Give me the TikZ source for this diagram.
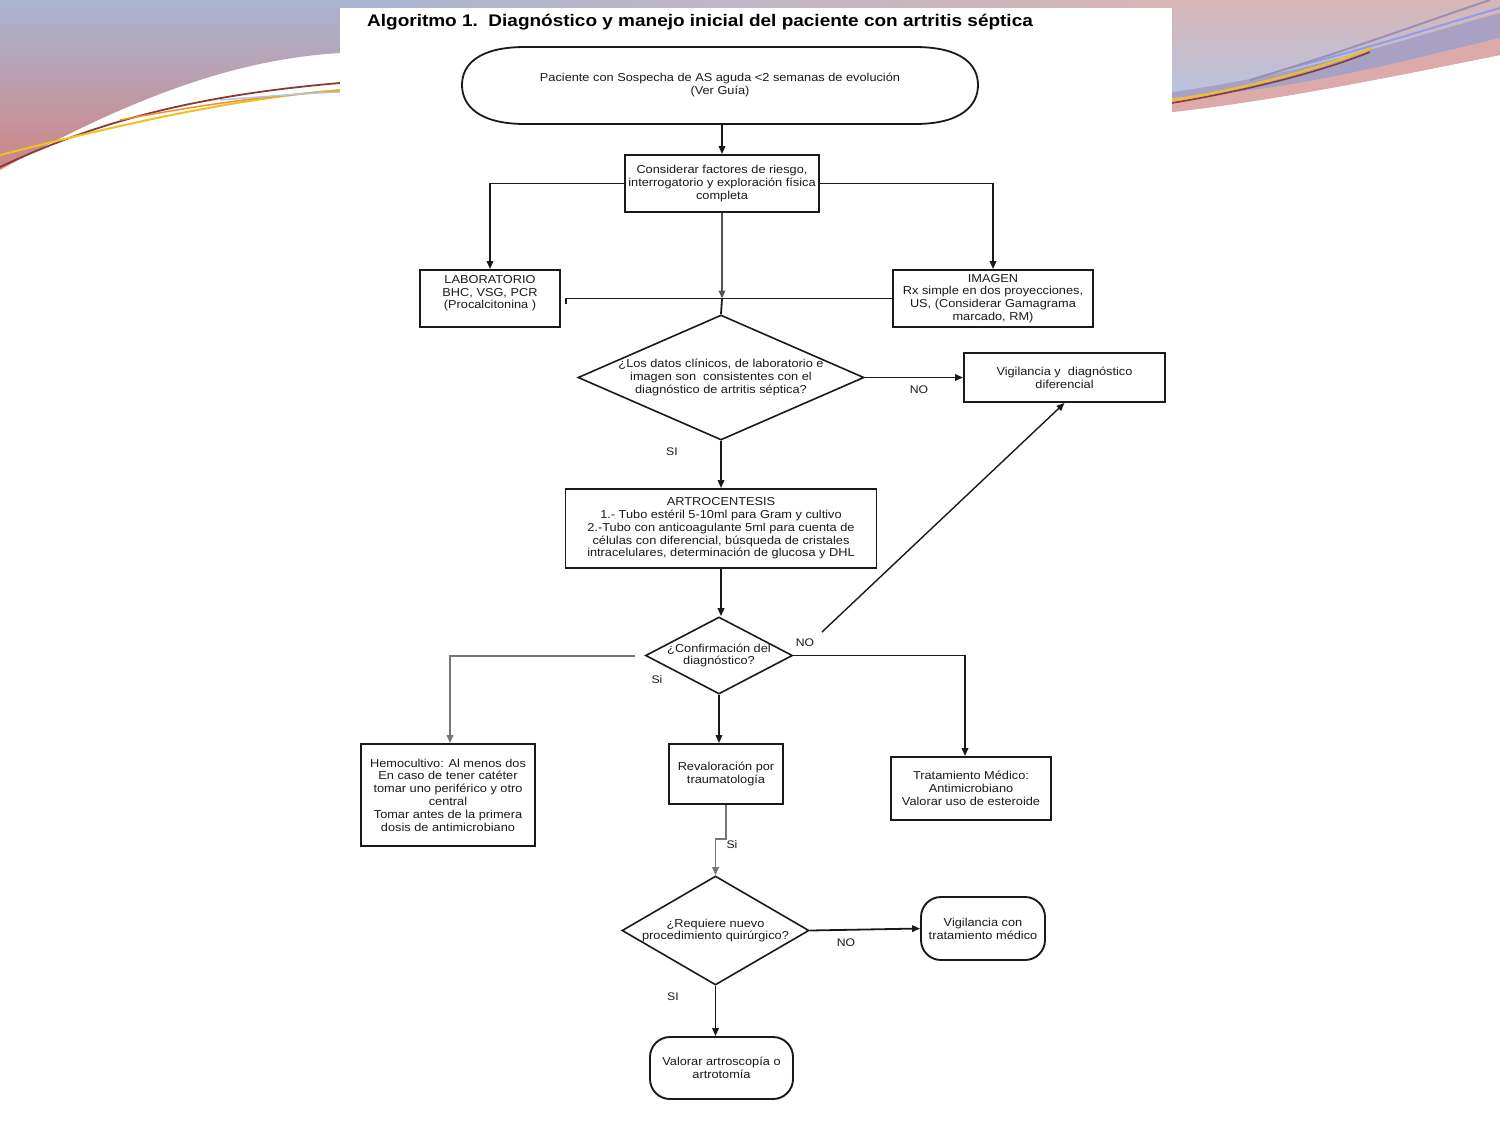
\documentclass[tikz,border=0pt]{standalone}
\usepackage{fontspec}
\setmainfont{Liberation Sans}[FakeStretch=1.11]
\newfontfamily\titlefont{Liberation Sans}[FakeStretch=1.13]
\usetikzlibrary{arrows.meta,shapes.geometric,calc}
\definecolor{bgblue}{HTML}{A9B5D2}
\definecolor{bgpink}{HTML}{CF8585}
\definecolor{bgrose}{HTML}{D8B6B6}
\definecolor{bglblue}{HTML}{B2C6E6}
\definecolor{bgpurple}{HTML}{9A90B8}
\definecolor{bgyellow}{HTML}{F2C022}
\definecolor{bgorange}{HTML}{F0902A}
\definecolor{bgbrown}{HTML}{8A3A34}
\definecolor{inkc}{HTML}{1A1A1A}
\begin{document}
\begin{tikzpicture}[x=1pt,y=-1pt,
  txt/.style={font=\fontsize{11.5}{12.8}\selectfont, align=center, text=inkc},
  box/.style={txt, draw=inkc, line width=1.9pt, rectangle, inner sep=0pt},
  dia/.style={draw=inkc, line width=1.6pt, diamond, inner sep=0pt},
  rbox/.style={box, rounded corners=20pt},
  conn/.style={draw=inkc, line width=1.8pt},
  arr/.style={conn, -{Triangle[length=8pt,width=6.5pt]}},
  lbl/.style={font=\fontsize{11}{12}\selectfont, text=inkc}]
\useasboundingbox (0,0) rectangle (1500,1125);
\fill[white] (0,0) rectangle (1500,1125);
% background swooshes
\shade[top color=bgblue, bottom color=bgpink] (0,0) -- (340,0) -- (340,53) .. controls (220,60) and (110,110) .. (0,170) -- cycle;
\shade[left color=bgblue, right color=bgrose] (340,0) rectangle (1172,8);
\shade[top color=bgrose, bottom color=bglblue] (1172,0) -- (1500,0) -- (1500,55) .. controls (1400,75) and (1280,100) .. (1172,112) -- cycle;
\fill[bgpurple!85] (1172,92) .. controls (1300,75) and (1400,40) .. (1500,13) -- (1500,38) .. controls (1400,62) and (1300,90) .. (1172,98) -- cycle;
\fill[bgpink!70] (1172,98) .. controls (1300,90) and (1400,62) .. (1500,38) -- (1500,55) .. controls (1400,75) and (1280,100) .. (1172,112) -- cycle;
\draw[bglblue!80!blue, line width=2pt] (1290,68) .. controls (1380,45) and (1440,25) .. (1500,8);
\draw[bgpurple, line width=2pt] (1250,80) .. controls (1350,50) and (1430,20) .. (1490,0);
\draw[bgbrown, line width=1.6pt] (1172,103) .. controls (1250,90) and (1320,72) .. (1370,52);
\draw[bgyellow, line width=2pt] (1172,100) .. controls (1250,88) and (1320,68) .. (1372,48);
\draw[bgbrown, line width=1.8pt] (0,167) .. controls (100,120) and (200,95) .. (340,83);
\draw[bgyellow, line width=2pt] (0,155) .. controls (100,130) and (220,100) .. (340,90);
\draw[bgorange, line width=1.5pt] (120,120) .. controls (200,105) and (270,95) .. (340,91);
\draw[bglblue, line width=1.5pt] (220,100) .. controls (270,96) and (310,93) .. (340,92);
% page
\fill[white] (340,8) rectangle (1172,1125);
% title
\node[font=\titlefont\bfseries\fontsize{16.8}{18}\selectfont, anchor=west, text=black, inner sep=0pt] (title) at (367,22) {Algoritmo 1.\ \ Diagn\'ostico y manejo inicial del paciente con artritis s\'eptica};
% start terminal
\node[txt, minimum width=516pt, minimum height=77pt, inner sep=0pt] (start) at (720,85) {Paciente con Sospecha de AS aguda <2 semanas de evoluci\'on\\(Ver Gu\'ia)};
\draw[inkc, line width=1.8pt] (525,47) -- (915,47) .. controls (962,47) and (978,65) .. (978,85) .. controls (978,105) and (962,124) .. (915,124) -- (525,124) .. controls (478,124) and (462,105) .. (462,85) .. controls (462,65) and (478,47) .. (525,47) -- cycle;
% nodes
\node[box, minimum width=194pt, minimum height=57pt] (cons) at (722,183.5) {Considerar factores de riesgo,\\interrogatorio y exploraci\'on f\'isica\\completa};
\node[box, minimum width=140pt, minimum height=57pt] (lab) at (490,298.5) {LABORATORIO\\BHC, VSG, PCR\\(Procalcitonina )\\\mbox{}};
\node[box, minimum width=200pt, minimum height=57pt] (img) at (993,298.5) {IMAGEN\\Rx simple en dos proyecciones,\\US, (Considerar Gamagrama\\marcado, RM)};
\node[dia, minimum width=286pt, minimum height=125pt] (d1) at (721,377.5) {};
\node[txt] (d1t) at (d1.center) {¿Los datos cl\'inicos, de laboratorio e\\imagen son\ \ consistentes con el\\diagn\'ostico de artritis s\'eptica?};
\node[box, minimum width=201pt, minimum height=49pt] (vig) at (1064.5,377.5) {Vigilancia y\ \ diagn\'ostico\\diferencial};
\node[box, minimum width=311pt, minimum height=79pt] (artro) at (721,528.5) {ARTROCENTESIS\\1.- Tubo est\'eril 5-10ml para Gram y cultivo\\2.-Tubo con anticoagulante 5ml para cuenta de\\c\'elulas con diferencial, b\'usqueda de cristales\\intracelulares, determinaci\'on de glucosa y DHL};
\node[dia, minimum width=147pt, minimum height=77pt] (d2) at (719,655.5) {};
\node[txt] (d2t) at (d2.center) {¿Confirmaci\'on del\\diagn\'ostico?};
\node[box, minimum width=174pt, minimum height=102pt] (hemo) at (448,795) {Hemocultivo: Al menos dos\\En caso de tener cat\'eter\\tomar uno perif\'erico y otro\\central\\Tomar antes de la primera\\dosis de antimicrobiano};
\node[box, minimum width=114pt, minimum height=60pt] (reval) at (726,774) {Revaloraci\'on por\\traumatolog\'ia};
\node[box, minimum width=160pt, minimum height=63pt] (trat) at (971,788.5) {Tratamiento M\'edico:\\Antimicrobiano\\Valorar uso de esteroide};
\node[dia, minimum width=187pt, minimum height=109pt] (d3) at (715.5,930.5) {};
\node[txt] (d3t) at (d3.center) {¿Requiere nuevo\\procedimiento quir\'urgico?};
\node[rbox, minimum width=124pt, minimum height=63pt] (vig2) at (983,928.5) {Vigilancia con\\tratamiento m\'edico};
\node[rbox, minimum width=143pt, minimum height=62pt] (val) at (721.5,1068) {Valorar artroscop\'ia o\\artrotom\'ia};
% connectors
\draw[arr] (start.south -| cons.north) -- (cons.north);
\draw[arr] (cons.west) -| (lab.north);
\draw[arr] (cons.east) -| (img.north);
\coordinate (j1) at (cons.south |- lab.east);
\draw[arr, draw=inkc!75] (cons.south) -- (j1);
\draw[conn] (j1) -- (d1.north);
\draw[conn, line width=1.3pt] ($(lab.east)+(5,5)$) -- ($(lab.east)+(5,0)$) -- (img.west);
\draw[arr] (d1.east) -- (vig.west);
\node[lbl] (l1) at (919,390) {NO};
\draw[arr] (d1.south) -- (artro.north);
\node[lbl] (l2) at (672,452) {SI};
\draw[arr] (artro.south) -- (artro.south |- d2.north);
\coordinate (n2) at (822,632);
\draw[arr, line width=1.4pt] (n2) -- (vig.south);
\node[lbl] (l3) at (805,643) {NO};
\draw[arr] (d2.east) -| ($(trat.north)+(-6,0)$);
\coordinate (h0) at (635,656);
\draw[arr, draw=inkc!60] (h0) -| ($(hemo.north)+(2,0)$);
\node[lbl] (l4) at (657,680) {Si};
\draw[arr] (d2.south) -- (d2.south |- reval.north);
\draw[arr, draw=inkc!60] (reval.south) -- ++(0,34) -| (d3.north);
\node[lbl] (l5) at (732,845) {Si};
\draw[arr] (d3.east) -- (vig2.west);
\node[lbl] (l6) at (846,943) {NO};
\draw[arr] (d3.south) -- (d3.south |- val.north);
\node[lbl] (l7) at (673,997) {SI};
\end{tikzpicture}
\end{document}
